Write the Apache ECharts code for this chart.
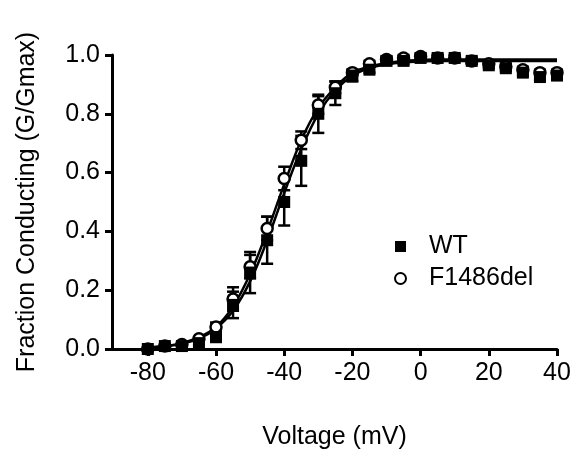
<!DOCTYPE html>
<html>
<head>
<meta charset="utf-8">
<script src="https://cdn.jsdelivr.net/npm/echarts@6/dist/echarts.min.js"></script>
<style>
html,body{margin:0;padding:0;background:#fff;}
#c{width:577px;height:456px;}
</style>
</head>
<body>
<div id="c"></div>
<script>
// Voltage steps (mV)
const voltages = [-80,-75,-70,-65,-60,-55,-50,-45,-40,-35,-30,-25,-20,-15,-10,-5,0,5,10,15,20,25,30,35,40];
// WT mean and SEM
const wtMean = [0.00,0.01,0.01,0.02,0.04,0.15,0.26,0.37,0.50,0.64,0.80,0.87,0.93,0.95,0.98,0.98,0.99,0.99,0.99,0.98,0.965,0.955,0.94,0.925,0.93];
const wtSem  = [0.005,0.005,0.005,0.005,0.015,0.045,0.07,0.08,0.08,0.085,0.065,0.04,0.02,0.01,0.01,0.01,0.01,0.01,0.01,0.01,0.01,0.01,0.01,0.01,0.01];
// F1486del mean and SEM
const mutMean = [0.00,0.01,0.015,0.035,0.075,0.17,0.28,0.41,0.58,0.71,0.83,0.89,0.94,0.97,0.985,0.99,0.995,0.99,0.99,0.98,0.97,0.96,0.95,0.94,0.94];
const mutSem  = [0.005,0.005,0.005,0.005,0.015,0.04,0.04,0.04,0.04,0.03,0.03,0.02,0.01,0.01,0.01,0.01,0.01,0.01,0.01,0.01,0.01,0.01,0.01,0.01,0.01];
// Boltzmann fit curves
const fitV   = [-80,-75,-70,-65,-60,-55,-50,-45,-40,-35,-30,-25,-20,-15,-10,-5,0,5,10,15,20,25,30,35,40];
const wtFit  = [0.004,0.009,0.018,0.035,0.07,0.13,0.23,0.37,0.53,0.68,0.80,0.88,0.93,0.955,0.968,0.975,0.978,0.98,0.98,0.98,0.98,0.98,0.98,0.98,0.98];
const mutFit = [0.005,0.01,0.02,0.04,0.075,0.145,0.255,0.40,0.56,0.71,0.82,0.89,0.94,0.96,0.973,0.98,0.983,0.985,0.985,0.985,0.985,0.985,0.985,0.985,0.985];
// Tick labels
const xTicks = [-80,-60,-40,-20,0,20,40];
const yTicks = [0,0.2,0.4,0.6,0.8,1.0];
const seriesNames = ['WT','F1486del'];

const FONT = 'Liberation Sans, Arial, sans-serif';
const pts = (m) => voltages.map((v,i)=>[v,m[i]]);
const errs = (m,s) => voltages.map((v,i)=>[v,m[i],s[i]]);
const fit = (f) => fitV.map((v,i)=>[v,f[i]]);

function errRender(params, api){
  const x = api.value(0), y = api.value(1), e = api.value(2);
  const top = api.coord([x, y+e]);
  const bot = api.coord([x, y-e]);
  const h = 6;
  const st = {stroke:'#000', lineWidth:2.5};
  return {type:'group', children:[
    {type:'line', shape:{x1:top[0],y1:top[1],x2:bot[0],y2:bot[1]}, style:st},
    {type:'line', shape:{x1:top[0]-h,y1:top[1],x2:top[0]+h,y2:top[1]}, style:st},
    {type:'line', shape:{x1:bot[0]-h,y1:bot[1],x2:bot[0]+h,y2:bot[1]}, style:st}
  ]};
}

const chart = echarts.init(document.getElementById('c'), null, {renderer:'canvas'});
chart.setOption({
  animation:false,
  backgroundColor:'#fff',
  grid:{left:112, right:20, top:55, bottom:107, containLabel:false},
  xAxis:{
    type:'value', min:-90.5, max:40,
    axisLine:{show:true, onZero:false, lineStyle:{color:'#000', width:3}},
    axisTick:{show:true, length:7, lineStyle:{color:'#000', width:3}, customValues:xTicks},
    axisLabel:{color:'#000', fontSize:25, fontFamily:FONT, margin:12, customValues:xTicks},
    splitLine:{show:false},
    name:'Voltage (mV)', nameLocation:'middle', nameGap:76,
    nameTextStyle:{color:'#000', fontSize:25, fontFamily:FONT}
  },
  yAxis:{
    type:'value', min:0, max:1, interval:0.2,
    axisLine:{show:true, onZero:false, lineStyle:{color:'#000', width:3}},
    axisTick:{show:true, length:7, lineStyle:{color:'#000', width:3}, customValues:yTicks},
    axisLabel:{color:'#000', fontSize:25, fontFamily:FONT, margin:12, customValues:yTicks,
      formatter:(v)=>v.toFixed(1)},
    splitLine:{show:false},
    name:'Fraction Conducting (G/Gmax)', nameLocation:'middle', nameGap:72,
    nameTextStyle:{color:'#000', fontSize:25, fontFamily:FONT}
  },
  legend:{
    data:seriesNames, orient:'vertical', left:389, top:229,
    itemWidth:11, itemHeight:11, itemGap:7,
    textStyle:{color:'#000', fontSize:25, fontFamily:FONT, padding:[0,0,0,18]}
  },
  series:[
    {name:'fitWT', type:'line', data:fit(wtFit), smooth:0.4, showSymbol:false, symbol:'none',
      lineStyle:{color:'#000', width:2.5}, z:1, silent:true},
    {name:'fitMut', type:'line', data:fit(mutFit), smooth:0.4, showSymbol:false, symbol:'none',
      lineStyle:{color:'#000', width:2.5}, z:1, silent:true},
    {name:'errMut', type:'custom', data:errs(mutMean,mutSem), renderItem:errRender, z:2, silent:true},
    {name:'errWT', type:'custom', data:errs(wtMean,wtSem), renderItem:errRender, z:2, silent:true},
    {name:'F1486del', type:'scatter', data:pts(mutMean), symbol:'circle', symbolSize:11,
      itemStyle:{color:'#fff', borderColor:'#000', borderWidth:2.5, opacity:1}, z:3},
    {name:'WT', type:'scatter', data:pts(wtMean), symbol:'rect', symbolSize:12,
      itemStyle:{color:'#000', opacity:1}, z:4}
  ]
});
</script>
</body>
</html>
